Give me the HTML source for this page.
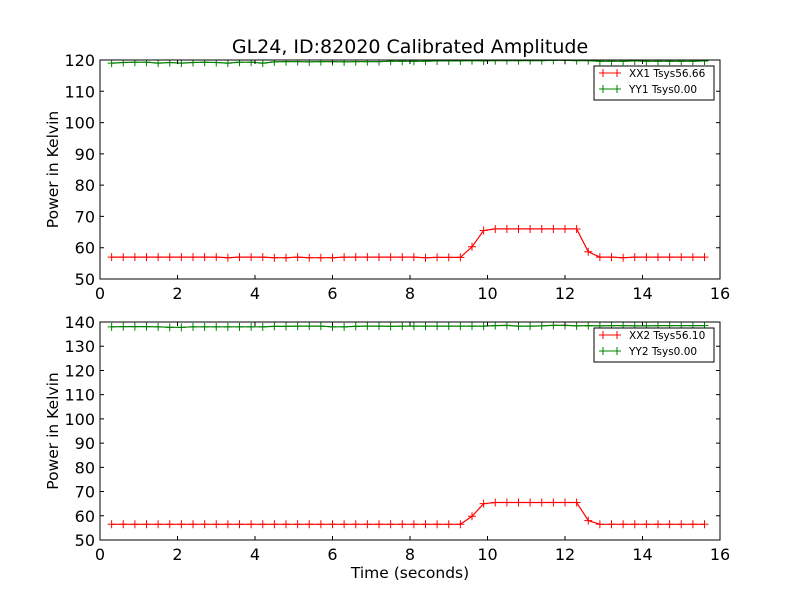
<!DOCTYPE html>
<html><head><meta charset="utf-8"><style>
body{margin:0;background:#fff}
svg{display:block;font-family:"DejaVu Sans","Liberation Sans",sans-serif}
</style></head><body>
<svg id="fig" width="800" height="600" viewBox="0 0 800 600">
<rect width="800" height="600" fill="#fff"/>
<text x="410" y="53" font-size="19" text-anchor="middle">GL24, ID:82020 Calibrated Amplitude</text>
<text x="410" y="578" font-size="15.5" text-anchor="middle">Time (seconds)</text>
<g id="p1"></g>
<g id="p2"></g>
</svg>
<script>
const times = Array.from({length:52},(_, i)=>+(0.3*(i+1)).toFixed(2));
const xx1 = [57,57,57,57,57,57,57,57,57,57,56.8,57,57,57,56.8,56.8,57,56.8,56.8,56.8,57,57,57,57,57,57,57,56.8,56.9,56.9,56.9,60.3,65.5,66,66,66,66,66,66,66,66,58.7,57,57,56.8,57,57,57,57,57,57,57];
const yy1 = [119,119.2,119.3,119.3,119,119.2,119,119.2,119.3,119.2,119,119.3,119.3,119,119.4,119.5,119.5,119.4,119.5,119.5,119.4,119.5,119.5,119.5,119.6,119.6,119.6,119.6,119.7,119.7,119.7,119.8,119.7,119.8,119.8,119.8,119.8,119.8,119.9,119.9,119.8,119.8,119.6,119.6,119.6,119.7,119.6,119.6,119.6,119.6,119.6,119.7];
const xx2 = [56.5,56.5,56.5,56.5,56.5,56.5,56.5,56.5,56.5,56.5,56.5,56.5,56.5,56.5,56.5,56.5,56.5,56.5,56.5,56.5,56.5,56.5,56.5,56.5,56.5,56.5,56.5,56.5,56.5,56.5,56.5,59.8,65,65.5,65.5,65.5,65.5,65.5,65.5,65.5,65.5,58,56.5,56.5,56.5,56.5,56.5,56.5,56.5,56.5,56.5,56.5];
const yy2 = [138,138.1,138.1,138.1,138,137.8,137.8,138,138,138,138,138,138,138,138.2,138.2,138.3,138.3,138.3,138,138,138.2,138.3,138.3,138.2,138.3,138.3,138.3,138.3,138.3,138.3,138.3,138.3,138.5,138.6,138.3,138.3,138.4,138.6,138.6,138.4,138.5,138.4,138.5,138.5,138.4,138.4,138.5,138.5,138.5,138.5,138.5];
const xTicks = [0,2,4,6,8,10,12,14,16];
const yTicks1 = [50,60,70,80,90,100,110,120];
const yTicks2 = [50,60,70,80,90,100,110,120,130,140];
const legend1 = ["XX1 Tsys56.66","YY1 Tsys0.00"];
const legend2 = ["XX2 Tsys56.10","YY2 Tsys0.00"];

const NS="http://www.w3.org/2000/svg";
function mk(parent,tag,attrs){const e=document.createElementNS(NS,tag);for(const k in attrs)e.setAttribute(k,attrs[k]);parent.appendChild(e);return e;}
const L=100,R=720;
const xs=v=>L+(v-0)/(16-0)*(R-L);

function panel(g,top,bot,ymin,ymax,yTicks,series,labels){
  const ys=v=>bot-(v-ymin)/(ymax-ymin)*(bot-top);
  const cp=mk(g,'clipPath',{id:g.id+'c'});mk(cp,'rect',{x:L,y:top,width:R-L,height:bot-top});
  const colors=['#ff0000','#008000'];
  series.forEach((s,si)=>{
    const sg=mk(g,'g',{'clip-path':`url(#${g.id}c)`});
    
    
    const pts=s.map((v,i)=>xs(times[i]).toFixed(1)+','+ys(v).toFixed(1)).join(' ');
    mk(sg,'polyline',{points:pts,fill:'none',stroke:colors[si],'stroke-width':1.2});
    s.forEach((v,i)=>{
      const x=xs(times[i]),y=ys(v);
      const m=mk(sg,'path',{d:`M${x-4},${y}H${x+4}M${x},${y-4}V${y+4}`,stroke:colors[si],'stroke-width':1});
      
      
    });
  });
  const frame=mk(g,'rect',{x:L,y:top,width:R-L,height:bot-top,fill:'none',stroke:'#000','stroke-width':1});
  
  
  xTicks.forEach(t=>{
    const x=xs(t);
    mk(g,'path',{d:`M${x},${bot}v-4M${x},${top}v4`,stroke:'#000'});
    const tx=mk(g,'text',{x:x,y:bot+20,'font-size':16,'text-anchor':'middle'});tx.textContent=t;
    
    
  });
  yTicks.forEach(t=>{
    const y=ys(t);
    mk(g,'path',{d:`M${L},${y}h4M${R},${y}h-4`,stroke:'#000'});
    const tx=mk(g,'text',{x:L-5,y:y+6,'font-size':16,'text-anchor':'end'});tx.textContent=t;
    
    
  });
  const yt=mk(g,'text',{x:0,y:0,'font-size':15.5,'text-anchor':'middle',transform:`translate(58,${(top+bot)/2}) rotate(-90)`});
  yt.textContent='Power in Kelvin';
  
  
  const lg=mk(g,'g',{});
  
  
  mk(lg,'rect',{x:594,y:top+6,width:120,height:34,fill:'#fff',stroke:'#000','stroke-width':1});
  labels.forEach((lab,i)=>{
    const y=top+13+i*16;
    const e=mk(lg,'g',{});
    
    
    mk(e,'path',{d:`M599,${y}H621M603,${y-4}v8M617,${y-4}v8`,stroke:colors[i],'stroke-width':1});
    const t=mk(e,'text',{x:629,y:y+4,'font-size':10.5});t.textContent=lab;
  });
}
panel(document.getElementById('p1'),60,279,50,120,yTicks1,[xx1,yy1],legend1);
panel(document.getElementById('p2'),322,540,50,140,yTicks2,[xx2,yy2],legend2);
</script>
</body></html>
